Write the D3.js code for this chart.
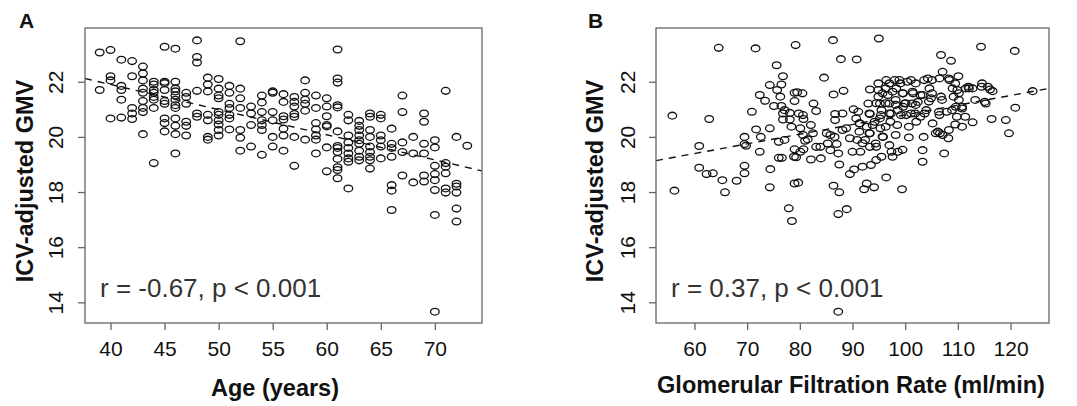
<!DOCTYPE html>
<html>
<head>
<meta charset="utf-8">
<script src="https://cdn.jsdelivr.net/npm/d3@7"></script>
<style>
  body { margin: 0; background: #fff; }
  svg { display: block; font-family: "Liberation Sans", Arial, Helvetica, sans-serif; }
</style>
</head>
<body>
<div id="chart"></div>
<script>
// panel A: age (years) -> list of ICV-adjusted GMV values at that age
var ageGroups = [
  [39, [23.06, 21.7]],
  [40, [23.15, 22.2, 22.05, 20.67]],
  [41, [22.8, 21.85, 21.7, 21.35, 20.7]],
  [42, [22.75, 22.2, 21.05, 20.85, 20.65]],
  [43, [22.55, 22.3, 22.05, 21.75, 21.6, 21.3, 21.05, 20.9, 20.1]],
  [44, [22.0, 21.9, 21.7, 21.6, 21.45, 21.35, 21.05, 19.05]],
  [45, [23.27, 22.0, 21.95, 21.7, 21.3, 21.2, 20.67, 20.5, 20.2]],
  [46, [23.2, 22.0, 21.75, 21.65, 21.5, 21.35, 21.15, 21.05, 20.67, 20.4, 20.1, 19.4]],
  [47, [21.6, 21.45, 21.2, 20.55, 20.4, 20.05]],
  [48, [23.5, 22.9, 22.7, 21.67, 20.85, 20.73]],
  [49, [22.15, 21.9, 21.65, 20.8, 20.6, 20.0, 19.9]],
  [50, [22.1, 21.75, 21.5, 21.4, 20.9, 20.8, 20.6, 20.45, 20.25, 20.05]],
  [51, [21.85, 21.6, 21.2, 21.05, 20.8, 20.67, 20.27]],
  [52, [23.47, 21.75, 21.4, 21.05, 20.25, 19.97, 19.5]],
  [53, [21.1, 20.85, 20.43, 19.65]],
  [54, [21.5, 21.25, 20.9, 20.6, 20.43, 20.25, 19.35]],
  [55, [21.65, 21.6, 20.9, 20.6, 20.0, 19.65]],
  [56, [21.55, 21.27, 20.75, 20.63, 20.3, 20.05, 19.5]],
  [57, [21.45, 21.27, 21.1, 20.83, 20.73, 20.0, 18.95]],
  [58, [22.05, 21.6, 21.35, 21.2, 20.95, 19.9]],
  [59, [21.5, 21.05, 20.5, 20.27, 20.05, 19.9, 19.4]],
  [60, [21.4, 21.1, 20.75, 20.43, 20.38, 19.62, 18.75]],
  [61, [23.17, 22.12, 21.97, 21.15, 21.07, 20.2, 19.67, 19.6, 19.45, 19.2, 18.9, 18.8, 18.5]],
  [62, [20.8, 20.6, 20.05, 19.8, 19.6, 19.4, 19.22, 19.1, 18.13]],
  [63, [20.58, 20.4, 20.25, 20.05, 19.88, 19.75, 19.5, 19.28, 19.15]],
  [64, [20.85, 20.73, 20.25, 20.0, 19.65, 19.45, 19.28, 19.15, 18.85]],
  [65, [20.8, 20.67, 20.05, 19.88, 19.65, 19.22]],
  [66, [20.3, 19.75, 19.6, 19.28, 18.25, 18.05, 17.35]],
  [67, [21.5, 20.9, 19.8, 19.45, 18.6]],
  [68, [20.0, 19.4, 18.35]],
  [69, [20.85, 20.55, 19.75, 19.4, 18.6, 18.38]],
  [70, [19.88, 19.62, 18.95, 18.65, 18.43, 18.07, 17.17, 13.66]],
  [71, [21.67, 19.05, 18.92, 18.68, 18.13, 17.98]],
  [72, [20.0, 18.3, 18.2, 17.98, 17.4, 16.93]],
  [73, [19.68]]
];

// panel B: glomerular filtration rate (ml/min) and GMV, paired by index
var gfrValues = [
  55.8, 56.2, 64.6, 60.9, 62.8, 60.9, 62.3, 63.5, 65.3, 65.8, 68.0, 69.5, 69.5, 69.5, 69.5, 69.8,
  70.9, 71.6, 71.7, 72.4, 72.6, 72.4, 73.4, 74.3, 74.3, 74.4, 74.3, 75.1, 75.6, 75.7, 76.0, 76.0,
  76.3, 76.8, 76.5, 76.5, 76.8, 77.1, 76.8, 77.1, 76.6, 78.1, 78.1, 78.4, 79.0, 79.5, 79.0, 79.2,
  79.0, 78.9, 79.3, 79.0, 79.7, 77.9, 78.5, 79.8, 80.5, 80.1, 80.6, 80.7, 80.6, 80.1, 80.7, 81.0,
  81.5, 82.1, 82.1, 82.6, 83.1, 82.5, 83.1, 83.9, 84.0, 84.6, 85.1, 85.8, 85.3, 85.8, 86.3, 86.4,
  86.7, 86.7, 86.4, 86.6, 87.0, 87.3, 87.5, 87.5, 87.3, 87.3, 87.8, 88.1, 88.3, 88.1, 88.8, 88.9,
  89.5, 89.5, 90.0, 90.2, 90.3, 90.8, 90.7, 90.9, 91.1, 91.4, 91.3, 91.5, 91.9, 92.2, 92.7, 92.4,
  92.7, 93.0, 93.3, 93.3, 93.3, 93.3, 93.5, 94.1, 94.2, 94.4, 94.5, 94.9, 94.9, 94.9, 95.0, 95.2,
  95.5, 95.2, 95.3, 95.8, 95.5, 96.4, 96.3, 96.4, 96.7, 97.0, 97.0, 97.2, 97.4, 97.6, 98.0, 98.3,
  98.2, 98.6, 98.6, 99.1, 99.6, 99.9, 99.6, 99.4, 100.2, 100.7, 101.1, 101.5, 101.3, 101.9, 102.1, 102.4,
  103.3, 103.5, 103.3, 103.3, 103.7, 104.0, 104.3, 104.6, 105.1, 104.9, 105.2, 106.2, 106.6, 106.8, 107.1, 107.4,
  106.5, 106.8, 106.5, 107.1, 107.9, 108.4, 108.2, 108.7, 109.0, 109.2, 109.6, 109.5, 109.8, 110.1, 109.9, 110.2,
  110.8, 111.5, 112.1, 112.8, 112.8, 114.4, 114.6, 115.1, 115.3, 115.7, 116.1, 116.4, 116.6, 119.1, 119.7, 120.8,
  120.9, 124.2,
  97.0, 98.9, 100.4, 102.0, 103.6, 95.7, 97.6, 99.5, 101.4, 102.9, 105.1, 94.5, 96.3, 98.2, 100.1, 102.0,
  104.5, 107.0, 93.2, 95.4, 97.3, 99.2, 101.1, 102.9, 106.4, 108.9, 110.8, 91.3, 93.8, 96.3, 98.5, 100.7,
  93.2, 95.7, 98.2, 91.9, 94.5, 97.0, 99.5, 109.5, 112.0, 113.3, 114.5, 110.2, 108.3, 111.4, 110.8, 108.3,
  105.8
];
var gmvByGfr = [
  20.77, 18.05, 23.23, 19.67, 20.65, 18.88, 18.65, 18.68, 18.43, 17.99, 18.41, 20.0, 19.74, 18.95, 18.68, 19.68,
  20.91, 23.21, 20.27, 21.52, 20.0, 19.46, 21.31, 20.31, 21.88, 18.83, 18.17, 21.12, 22.6, 21.7, 19.82, 19.24,
  21.46, 22.2, 21.9, 21.12, 20.85, 20.97, 20.63, 19.89, 19.24, 20.87, 20.63, 20.37, 21.6, 21.62, 21.3, 23.33,
  19.55, 19.28, 19.26, 18.31, 18.34, 17.41, 16.95, 20.85, 21.58, 20.31, 20.07, 20.65, 20.79, 19.46, 19.55, 19.86,
  19.91, 19.18, 20.43, 21.21, 20.94, 20.13, 19.64, 19.64, 19.22, 22.15, 20.13, 20.07, 19.76, 19.52, 23.51, 21.54,
  20.83, 20.61, 18.23, 20.0, 19.74, 19.4, 19.0, 17.99, 17.2, 13.66, 22.82, 20.85, 21.67, 20.25, 20.31, 17.38,
  18.65, 19.95, 19.46, 21.0, 18.82, 22.81, 20.67, 19.89, 20.91, 20.49, 20.19, 19.46, 18.92, 18.1, 18.31, 19.89,
  20.37, 21.21, 21.72, 20.83, 20.13, 19.64, 18.98, 18.17, 20.55, 19.76, 19.16, 21.94, 21.7, 21.46, 23.57, 21.21,
  20.97, 20.67, 20.31, 20.0, 19.28, 18.53, 21.76, 22.06, 21.52, 21.21, 20.85, 20.55, 19.46, 19.28, 22.06, 21.76,
  21.34, 20.97, 19.46, 21.94, 21.58, 21.21, 21.09, 18.1, 20.79, 19.98, 22.06, 21.58, 21.21, 20.85, 20.55, 21.27,
  21.52, 20.0, 19.52, 19.1, 20.85, 20.97, 22.12, 21.76, 22.06, 21.4, 20.49, 20.19, 20.13, 22.97, 22.36, 19.4,
  22.12, 21.46, 20.79, 20.07, 20.91, 22.06, 19.95, 22.76, 21.76, 21.46, 21.09, 20.45, 20.73, 22.2, 21.7, 21.34,
  21.03, 21.76, 21.76, 21.76, 20.53, 23.27, 21.94, 21.27, 21.21, 21.82, 21.72, 20.65, 21.66, 20.61, 20.13, 23.12,
  21.06, 21.66,
  21.94, 22.06, 22.0, 21.94, 22.06, 21.58, 21.64, 21.58, 21.64, 21.52, 21.58, 21.22, 21.22, 21.16, 21.22, 21.16,
  21.28, 21.34, 20.85, 20.79, 20.85, 20.79, 20.85, 20.73, 20.91, 20.97, 21.09, 20.49, 20.43, 20.37, 20.43, 20.37,
  20.13, 20.01, 20.07, 19.77, 19.64, 19.7, 19.53, 21.94, 21.82, 21.34, 21.82, 21.58, 22.12, 20.73, 20.37, 20.25,
  20.13
];

// axis domains, ticks and fitted lines [intercept, slope]
var yDomain = [13.25, 23.95];
var yTicks = [14, 16, 18, 20, 22];
var xDomainA = [37.64, 74.36];
var xTicksA = [40, 45, 50, 55, 60, 65, 70];
var xDomainB = [52.7, 127.3];
var xTicksB = [60, 70, 80, 90, 100, 110, 120];
var fitA = [25.55, -0.0912];
var fitB = [17.29, 0.0351];

var pointsA = [];
ageGroups.forEach(function(g) {
  g[1].forEach(function(v) { pointsA.push({x: g[0], y: v}); });
});
var pointsB = gfrValues.map(function(v, i) { return {x: v, y: gmvByGfr[i]}; });

var width = 1077, height = 406;

var svg = d3.select("#chart")
  .append("svg")
  .attr("width", width)
  .attr("height", height);

function drawPanel(cfg) {
  var x = d3.scaleLinear().domain(cfg.xDomain).range([cfg.left, cfg.right]);
  var y = d3.scaleLinear().domain(yDomain).range([cfg.bottom, cfg.top]);

  var g = svg.append("g");

  g.append("clipPath")
    .attr("id", "clip-" + cfg.id)
    .append("rect")
    .attr("x", cfg.left).attr("y", cfg.top)
    .attr("width", cfg.right - cfg.left)
    .attr("height", cfg.bottom - cfg.top);

  // fitted regression line (dashed)
  g.append("line")
    .attr("clip-path", "url(#clip-" + cfg.id + ")")
    .attr("x1", x(cfg.xDomain[0]))
    .attr("y1", y(cfg.fit[0] + cfg.fit[1] * cfg.xDomain[0]))
    .attr("x2", x(cfg.xDomain[1]))
    .attr("y2", y(cfg.fit[0] + cfg.fit[1] * cfg.xDomain[1]))
    .attr("stroke", "#111")
    .attr("stroke-width", 1.4)
    .attr("stroke-dasharray", "7,6");

  g.selectAll(".pt")
    .data(cfg.points)
    .enter()
    .append("ellipse")
    .attr("class", "pt")
    .attr("cx", function(d) { return x(d.x); })
    .attr("cy", function(d) { return y(d.y); })
    .attr("rx", 4.3)
    .attr("ry", 3.4)
    .attr("fill", "none")
    .attr("stroke", "#111")
    .attr("stroke-width", 1.3);

  // box
  g.append("rect")
    .attr("x", cfg.left).attr("y", cfg.top)
    .attr("width", cfg.right - cfg.left)
    .attr("height", cfg.bottom - cfg.top)
    .attr("fill", "none")
    .attr("stroke", "#666")
    .attr("stroke-width", 1.3);

  var xAxis = g.append("g")
    .attr("transform", "translate(0," + cfg.bottom + ")")
    .call(d3.axisBottom(x).tickValues(cfg.xTicks).tickSize(7).tickPadding(11).tickSizeOuter(0));
  xAxis.select(".domain").remove();
  xAxis.selectAll("line").attr("stroke", "#666").attr("stroke-width", 1.3);
  xAxis.selectAll("text")
    .attr("font-size", "21px")
    .attr("fill", "#111")
    .attr("font-family", "Liberation Sans, Arial, sans-serif");

  var yAxis = g.append("g")
    .attr("transform", "translate(" + cfg.left + ",0)")
    .call(d3.axisLeft(y).tickValues(yTicks).tickSize(7).tickSizeOuter(0));
  yAxis.select(".domain").remove();
  yAxis.selectAll("line").attr("stroke", "#666").attr("stroke-width", 1.3);
  yAxis.selectAll("text")
    .attr("font-size", "21px")
    .attr("fill", "#111")
    .attr("font-family", "Liberation Sans, Arial, sans-serif")
    .attr("text-anchor", "middle")
    .attr("dy", "0")
    .attr("x", 0)
    .attr("transform", function(d) { return "translate(" + (cfg.tickLabelX - cfg.left + 7) + ",0) rotate(-90)"; })
    .attr("y", -7)
    .attr("dominant-baseline", "central");

  // axis titles
  g.append("text")
    .attr("x", cfg.xTitleX)
    .attr("y", cfg.xTitleY)
    .attr("text-anchor", "middle")
    .attr("font-size", "23.5px")
    .attr("font-weight", "bold")
    .attr("fill", "#111")
    .text(cfg.xTitle);

  g.append("text")
    .attr("transform", "translate(" + cfg.yTitleX + "," + cfg.yTitleY + ") rotate(-90)")
    .attr("text-anchor", "middle")
    .attr("font-size", "23.5px")
    .attr("font-weight", "bold")
    .attr("fill", "#111")
    .text("ICV-adjusted GMV");

  g.append("text")
    .attr("x", cfg.letterX)
    .attr("y", 28)
    .attr("font-size", "21px")
    .attr("font-weight", "bold")
    .attr("fill", "#111")
    .text(cfg.letter);

  g.append("text")
    .attr("x", cfg.left + 15)
    .attr("y", 297)
    .attr("font-size", "26px")
    .attr("fill", "#333")
    .text(cfg.stat);
}

drawPanel({
  id: "a", letter: "A", letterX: 19,
  left: 85, right: 482, top: 28, bottom: 323,
  xDomain: xDomainA, xTicks: xTicksA, points: pointsA, fit: fitA,
  tickLabelX: 55, xTitle: "Age (years)", xTitleX: 275, xTitleY: 396,
  yTitleX: 33, yTitleY: 181,
  stat: "r = -0.67, p < 0.001"
});

drawPanel({
  id: "b", letter: "B", letterX: 588,
  left: 656, right: 1049, top: 28, bottom: 323,
  xDomain: xDomainB, xTicks: xTicksB, points: pointsB, fit: fitB,
  tickLabelX: 627, xTitle: "Glomerular Filtration Rate (ml/min)", xTitleX: 851, xTitleY: 393,
  yTitleX: 603, yTitleY: 181,
  stat: "r = 0.37, p < 0.001"
});
</script>
</body>
</html>
